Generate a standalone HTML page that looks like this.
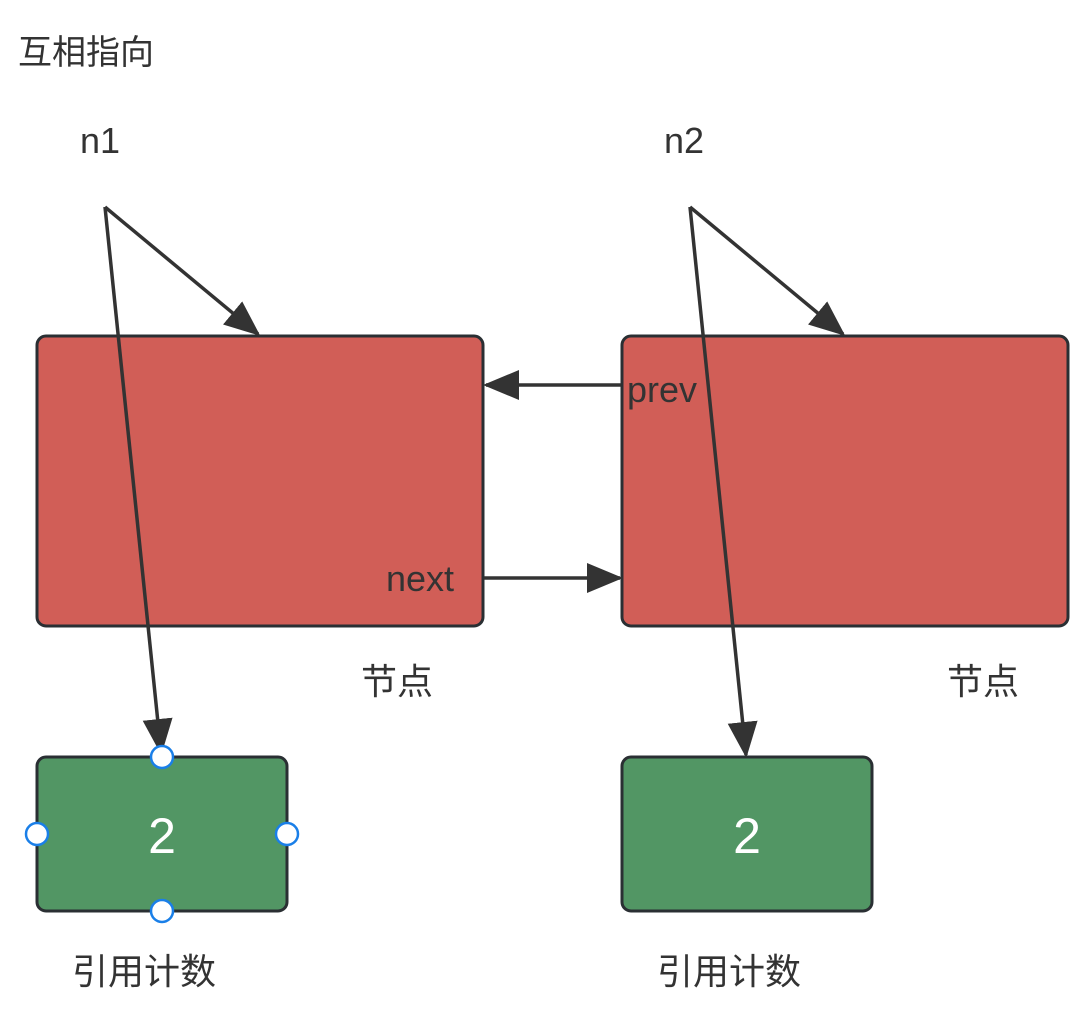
<!DOCTYPE html>
<html><head><meta charset="utf-8"><style>body{margin:0;background:#fff}svg{display:block}</style></head><body>
<svg width="1084" height="1012" viewBox="0 0 1084 1012" xmlns="http://www.w3.org/2000/svg" font-family="Liberation Sans, Noto Sans CJK SC, sans-serif">
<defs><marker id="a" markerWidth="12" markerHeight="10" refX="11" refY="5" orient="auto" markerUnits="userSpaceOnUse" viewBox="0 0 12 10"><path d="M0,0 L12,5 L0,10 Z" fill="#333"/></marker>
<marker id="b" viewBox="0 0 12 10" refX="11" refY="5" markerWidth="36" markerHeight="30" orient="auto" markerUnits="userSpaceOnUse"><path d="M0,0 L12,5 L0,10 Z" fill="#333"/></marker></defs>
<text x="18" y="64" font-size="34" fill="#333">互相指向</text>
<rect x="37" y="336" width="446" height="290" rx="9" fill="#D15E57" stroke="#2a2f33" stroke-width="3"/>
<rect x="622" y="336" width="446" height="290" rx="9" fill="#D15E57" stroke="#2a2f33" stroke-width="3"/>
<rect x="37" y="757" width="250" height="154" rx="9" fill="#529664" stroke="#2a2f33" stroke-width="3"/>
<rect x="622" y="757" width="250" height="154" rx="9" fill="#529664" stroke="#2a2f33" stroke-width="3"/>
<text x="80" y="153" font-size="36" fill="#333">n1</text>
<text x="664" y="153" font-size="36" fill="#333">n2</text>
<g stroke="#333" stroke-width="3.5" fill="none">
<line x1="105" y1="207" x2="258" y2="334" marker-end="url(#b)"/>
<line x1="105" y1="207" x2="161" y2="752" marker-end="url(#b)"/>
<line x1="690" y1="207" x2="843" y2="334" marker-end="url(#b)"/>
<line x1="690" y1="207" x2="746" y2="755" marker-end="url(#b)"/>
<line x1="621" y1="385" x2="486" y2="385" marker-end="url(#b)"/>
<line x1="484" y1="578" x2="620" y2="578" marker-end="url(#b)"/>
</g>
<text x="627" y="402" font-size="36" fill="#333">prev</text>
<text x="386" y="591" font-size="36" fill="#333">next</text>
<text x="361" y="694" font-size="36" fill="#333">节点</text>
<text x="947" y="694" font-size="36" fill="#333">节点</text>
<text x="162" y="853" font-size="50" fill="#fff" text-anchor="middle">2</text>
<text x="747" y="853" font-size="50" fill="#fff" text-anchor="middle">2</text>
<text x="72" y="984" font-size="36" fill="#333">引用计数</text>
<text x="657" y="984" font-size="36" fill="#333">引用计数</text>
<g fill="#fff" stroke="#1a7fe8" stroke-width="2.5">
<circle cx="162" cy="757" r="11"/><circle cx="162" cy="911" r="11"/><circle cx="37" cy="834" r="11"/><circle cx="287" cy="834" r="11"/>
</g>
</svg>
</body></html>
